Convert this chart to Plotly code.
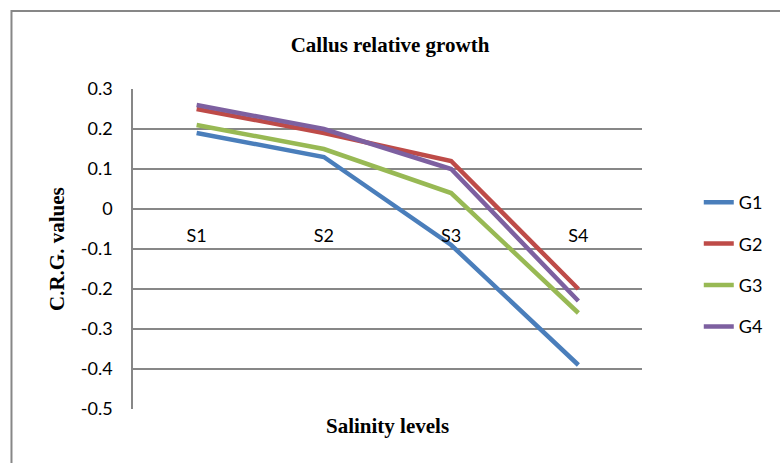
import plotly.graph_objects as go

# Salinity levels and callus relative growth (C.R.G.) per genotype
levels = ["S1", "S2", "S3", "S4"]
g1 = [0.19, 0.13, -0.09, -0.39]
g2 = [0.25, 0.19, 0.12, -0.20]
g3 = [0.21, 0.15, 0.04, -0.26]
g4 = [0.26, 0.20, 0.10, -0.23]

series_names = ["G1", "G2", "G3", "G4"]
series_colors = ["#4A7EBB", "#BE4B48", "#98B954", "#7D60A0"]

y_ticks = [0.3, 0.2, 0.1, 0, -0.1, -0.2, -0.3, -0.4, -0.5]
y_tick_text = ["0.3", "0.2", "0.1", "0", "-0.1", "-0.2", "-0.3", "-0.4", "-0.5"]

W, H = 780, 463
L, R, T, B = 133, 136, 89, 54
plot_w = W - L - R
plot_h = H - T - B
grid = "#878787"
serif = "Liberation Serif, Times New Roman, serif"
sans = "Lato, Carlito, Calibri, sans-serif"

fig = go.Figure()
for name, vals, col in zip(series_names, [g1, g2, g3, g4], series_colors):
    fig.add_trace(go.Scatter(
        x=levels, y=vals, name=name, mode="lines",
        line=dict(color=col, width=4.5),
        legendgroup=name,
    ))

y_min, y_max = -0.5, 0.3
zero_pos = (0 - y_min) / (y_max - y_min)

# outer chart-area frame (runs off the right and bottom edges)
fig.add_shape(type="rect", xref="paper", yref="paper",
              x0=(11 - L) / plot_w, x1=(W + 20 - L) / plot_w,
              y0=-(H + 20 - T - plot_h) / plot_h, y1=(T + plot_h - 11) / plot_h,
              line=dict(color=grid, width=2), fillcolor="rgba(0,0,0,0)", layer="below")

fig.update_layout(
    width=W, height=H,
    margin=dict(l=L, r=R, t=T, b=B),
    paper_bgcolor="white", plot_bgcolor="white",
    title=dict(text="<b>Callus relative growth</b>", x=0.5, xref="container",
               y=1 - 45 / H, yref="container", xanchor="center", yanchor="middle",
               font=dict(family=serif, size=21, color="black")),
    xaxis=dict(type="category", range=[-0.5, 3.5], anchor="free", position=zero_pos,
               showgrid=False, showline=False, zeroline=False, ticks="",
               ticklabelstandoff=14,
               tickfont=dict(family=sans, size=18, color="black")),
    yaxis=dict(range=[y_min, y_max], tickvals=y_ticks, ticktext=y_tick_text,
               showgrid=True, gridcolor=grid, gridwidth=1.5,
               zeroline=False, showline=True, linecolor=grid, linewidth=1.5,
               ticks="", ticklabelstandoff=15,
               tickfont=dict(family=sans, size=18, color="black")),
    legend=dict(x=(701 - L) / plot_w, xanchor="left",
                y=(plot_h - (184 - T)) / plot_h, yanchor="top",
                tracegroupgap=15, font=dict(family=sans, size=18, color="black"),
                bgcolor="rgba(0,0,0,0)"),
    showlegend=True,
)

fig.add_annotation(text="<b>Salinity levels</b>", xref="paper", yref="paper",
                   x=0.5, y=0, yshift=-17, showarrow=False, yanchor="middle",
                   font=dict(family=serif, size=21, color="black"))
fig.add_annotation(text="<b>C.R.G. values</b>", xref="paper", yref="paper",
                   x=0, y=0.5, xshift=-(L - 57), showarrow=False, textangle=-90,
                   xanchor="center", yanchor="middle",
                   font=dict(family=serif, size=21, color="black"))

fig.write_html("out.html")
